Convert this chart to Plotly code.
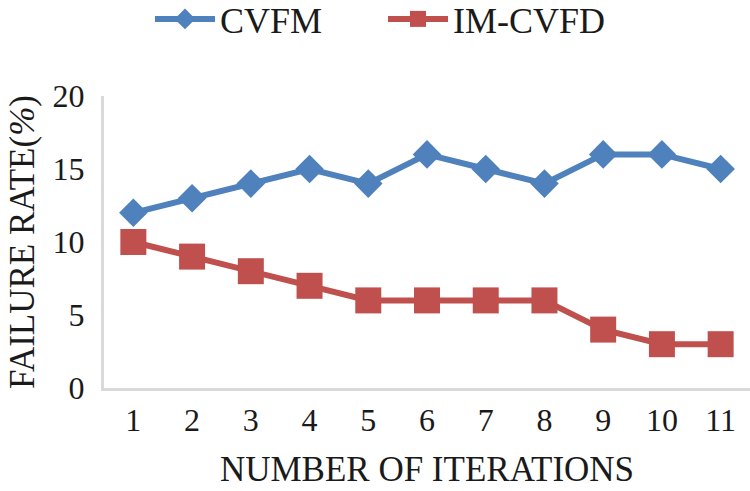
import plotly.graph_objects as go

iterations = [str(i) for i in range(1, 12)]
cvfm = [12, 13, 14, 15, 14, 16, 15, 14, 16, 16, 15]
imcvfd = [10, 9, 8, 7, 6, 6, 6, 6, 4, 3, 3]

FONT = "Times New Roman, Liberation Serif, serif"
fig = go.Figure()
fig.add_trace(go.Scatter(x=iterations, y=cvfm, name="CVFM", mode="lines+markers",
                         line=dict(color="#4F81BD", width=6),
                         marker=dict(symbol="diamond", size=22, color="#4F81BD")))
fig.add_trace(go.Scatter(x=iterations, y=imcvfd, name="IM-CVFD", mode="lines+markers",
                         line=dict(color="#C0504D", width=6),
                         marker=dict(symbol="square", size=26, color="#C0504D")))

fig.update_layout(
    width=750, height=491,
    margin=dict(l=104, r=0, t=96, b=103, autoexpand=False),
    paper_bgcolor="white", plot_bgcolor="white",
    font=dict(family=FONT, size=33, color="#1a1a1a"),
    legend=dict(orientation="h", x=150 / 750, xanchor="left", xref="container",
                y=1 - 19 / 491, yanchor="middle", yref="container", itemwidth=60,
                font=dict(family=FONT, size=36), entrywidth=158, entrywidthmode="pixels"),
    showlegend=True,
)
fig.update_xaxes(type="category", range=[-0.5, 10.5], showline=True, linecolor="#d9d9d9",
                 linewidth=3, showgrid=False, ticks="outside", ticklen=2,
                 tickcolor="rgba(0,0,0,0)", automargin=False,
                 title=dict(text="NUMBER OF ITERATIONS", standoff=20,
                            font=dict(family=FONT, size=35)),
                 tickfont=dict(family=FONT, size=32))
fig.update_yaxes(range=[0, 20], dtick=5, showline=True, linecolor="#d9d9d9", linewidth=3,
                 showgrid=False, ticks="outside", ticklen=10, tickcolor="rgba(0,0,0,0)",
                 zeroline=False, automargin=False,
                 title=dict(text="FAILURE RATE(<i>%</i>)", standoff=8,
                            font=dict(family=FONT, size=35)),
                 tickfont=dict(family=FONT, size=32))
fig.write_html("out.html", config={"displayModeBar": False},
               post_script="document.body.style.margin='0';document.body.style.overflow='hidden';")
